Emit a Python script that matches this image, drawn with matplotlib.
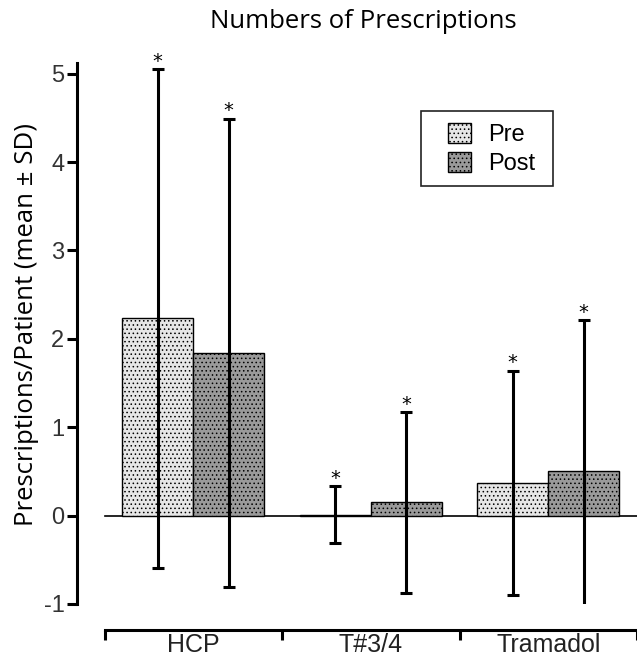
import numpy as np
import matplotlib.pyplot as plt
from matplotlib.patches import Rectangle
from matplotlib.transforms import blended_transform_factory

# datos
categorias = ['HCP', 'T#3/4', 'Tramadol']
pre_media = [2.23, 0.01, 0.37]
pre_sd = [2.82, 0.32, 1.27]
post_media = [1.84, 0.15, 0.51]
post_sd = [2.65, 1.02, 1.70]

plt.rcParams['hatch.linewidth'] = 0.6

W, H = 637, 658
fig = plt.figure(figsize=(W / 100, H / 100), dpi=100)
ax = fig.add_axes([77 / W, 54 / H, 560 / W, 541 / H])

x = np.arange(len(categorias))
ancho = 0.40

ax.bar(x - ancho / 2, pre_media, ancho, color='#e6e6e6', edgecolor='k',
       linewidth=1, hatch='....', label='Pre', zorder=2)
ax.bar(x + ancho / 2, post_media, ancho, color='#9a9a9a', edgecolor='k',
       linewidth=1, hatch='....', label='Post', zorder=2)

ax.errorbar(x - ancho / 2, pre_media, yerr=pre_sd, fmt='none', ecolor='k',
            elinewidth=2.2, capsize=4, capthick=2.2, zorder=3)
ax.errorbar(x + ancho / 2, post_media, yerr=post_sd, fmt='none', ecolor='k',
            elinewidth=2.2, capsize=4, capthick=2.2, zorder=3)

# asteriscos sobre cada barra de error
for xs, m, s in zip(np.concatenate([x - ancho / 2, x + ancho / 2]),
                    pre_media + post_media, pre_sd + post_sd):
    ax.text(xs, m + s - 0.02, '*', ha='center', va='bottom', fontsize=14,
            family='DejaVu Sans')

ax.plot([-0.5, 2.5], [0, 0], color='k', lw=1.2, zorder=1)

ax.set_xlim(-0.655, 2.475)
ax.set_ylim(-1, 5.12)

for lado in ['top', 'right']:
    ax.spines[lado].set_visible(False)
ax.spines['left'].set_linewidth(2.2)
ax.spines['bottom'].set_linewidth(2.2)
ax.spines['bottom'].set_position(('outward', 18.7))
ax.spines['bottom'].set_bounds(-0.5, 2.5)

ax.set_yticks([-1, 0, 1, 2, 3, 4, 5])
ax.set_yticklabels(['-1', '0', '1', '2', '3', '4', '5'])
ax.tick_params(axis='y', direction='out', length=7, width=2.2, labelsize=17,
               pad=2, labelcolor='#333333')
for lbl in ax.get_yticklabels():
    lbl.set_family('Liberation Sans')

ax.set_xticks([-0.5, 0.5, 1.5, 2.5])
ax.set_xticklabels([])
ax.tick_params(axis='x', which='major', direction='out', length=7, width=2.2)

# etiquetas de categoria justo debajo del eje
trans = blended_transform_factory(ax.transData, ax.transAxes)
for xi, nombre in zip(x, categorias):
    ax.text(xi, -48 / 541, nombre, transform=trans, ha='center', va='baseline',
            fontsize=18, family='Liberation Sans', color='#222222', clip_on=False)

# leyenda con marco dibujado aparte
fig.patches.append(Rectangle((421 / W, 1 - 186 / H), 132 / W, 75 / H,
                             transform=fig.transFigure, fill=False,
                             edgecolor='#222222', linewidth=1.2))
ax.legend(loc='upper left', bbox_to_anchor=(436 / W, 1 - 111 / H),
          bbox_transform=fig.transFigure, frameon=False, borderpad=0,
          prop={'family': 'Liberation Sans', 'size': 17},
          handlelength=0.97, handleheight=0.93, labelspacing=0.25,
          handletextpad=0.75)

fig.text(363 / W, 1 - 22 / H, 'Numbers of Prescriptions', ha='center',
         va='center', fontsize=18.5, family='Open Sans')
fig.text(27 / W, 1 - 325 / H, 'Prescriptions/Patient (mean ± SD)',
         ha='center', va='center', rotation=90, fontsize=18.5, family='Open Sans')

fig.savefig('out.png', dpi=100)
